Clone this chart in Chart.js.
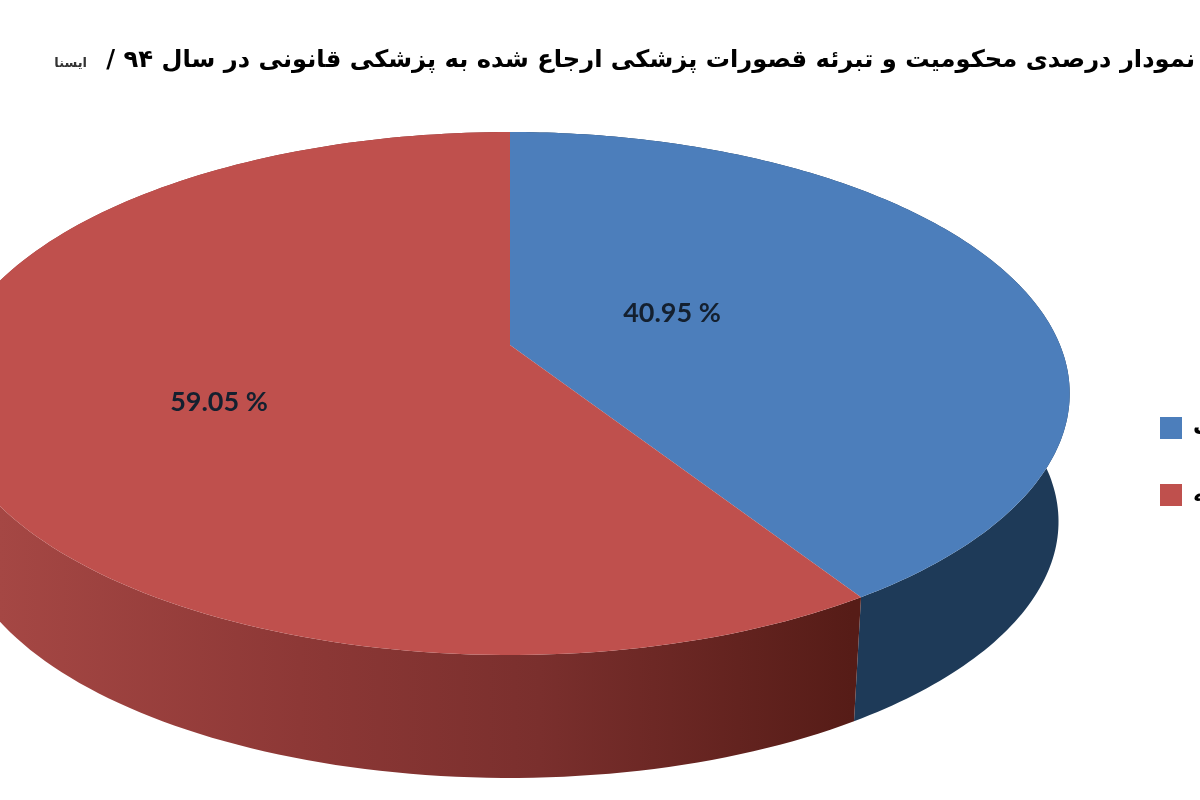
<!DOCTYPE html>
<html>
<head>
<meta charset="utf-8">
<title>نمودار درصدی</title>
<style>
  html, body { margin: 0; padding: 0; background: #fff; }
  canvas { display: block; direction: rtl; }
</style>
<script src="https://cdn.jsdelivr.net/npm/chart.js@4/dist/chart.umd.min.js"></script>
</head>
<body>
<canvas id="myChart" width="1200" height="800"></canvas>
<script>
'use strict';

//////////////// chart data ///////////////////

const categories = ['محکومیت', 'تبرئه'];
const percentValues = [40.95, 59.05];
const sliceColors = ['#4c7ebb', '#bf504d'];
const chartTitle = 'نمودار درصدی محکومیت و تبرئه قصورات پزشکی ارجاع شده به پزشکی قانونی در سال ۹۴ /';
const sourceName = 'ایسنا';

//////////////// tilted pie geometry ///////////////////

const apexX = 510;
const apexY = 345;
const spreadX = 550;
const spreadY = 252.5;
const tilt = -0.1855;
const leftStretch = 1.01;
const bottomScale = 0.98;
const bottomShift = 136;
const labelSpots = [[672, 313], [219, 402]];

// unit circle -> picture, the near side of the pie comes out bigger
function project(theta, lower) {
  const cx = Math.sin(theta);
  const cy = -Math.cos(theta);
  const d = 1 + tilt * cy;
  let x = apexX + spreadX * (cx < 0 ? cx * leftStretch : cx) / d;
  let y = apexY + spreadY * cy / d;
  if (lower) {
    x = apexX + bottomScale * (x - apexX);
    y = bottomShift + bottomScale * y;
  }
  return [x, y];
}

function arcPoints(start, end, lower) {
  const pts = [];
  const steps = 160;
  for (let i = 0; i <= steps; i++) {
    pts.push(project(start + (end - start) * i / steps, lower));
  }
  return pts;
}

function wallPaint(ctx, index) {
  const g = ctx.createLinearGradient(0, 0, 1200, 0);
  if (index === 0) {
    g.addColorStop(0, '#1e3a58');
    g.addColorStop(1, '#1e3a58');
  } else {
    g.addColorStop(0, '#a54744');
    g.addColorStop(0.25, '#8d3836');
    g.addColorStop(0.45, '#7a2f2d');
    g.addColorStop(0.71, '#561c17');
    g.addColorStop(1, '#561c17');
  }
  return g;
}

const tiltedPie = {
  id: 'tiltedPie',
  beforeDraw(chart) {
    // legend sits half off the right edge like the original crop
    const lg = chart.legend;
    lg.left = 1115;
    lg.right = 1500;
    lg.top = 372;
    lg.bottom = 800;
  },
  beforeDatasetDraw(chart, args) {
    const ctx = chart.ctx;
    const arcs = args.meta.data;
    const angles = arcs.map(a => [a.startAngle + Math.PI / 2, a.endAngle + Math.PI / 2]);

    ctx.save();
    angles.forEach((ang, i) => {
      const top = arcPoints(ang[0], ang[1], false);
      const low = arcPoints(ang[0], ang[1], true).reverse();
      ctx.beginPath();
      top.concat(low).forEach((p, n) => (n ? ctx.lineTo(p[0], p[1]) : ctx.moveTo(p[0], p[1])));
      ctx.closePath();
      ctx.fillStyle = wallPaint(ctx, i);
      ctx.fill();
    });
    angles.forEach((ang, i) => {
      ctx.beginPath();
      ctx.moveTo(apexX, apexY);
      arcPoints(ang[0], ang[1], false).forEach(p => ctx.lineTo(p[0], p[1]));
      ctx.closePath();
      ctx.fillStyle = arcs[i].options.backgroundColor;
      ctx.fill();
    });

    ctx.direction = 'ltr';
    ctx.font = 'bold 27px Lato';
    ctx.fillStyle = '#14202f';
    ctx.textAlign = 'center';
    ctx.textBaseline = 'middle';
    percentValues.forEach((v, i) => {
      ctx.fillText(v.toFixed(2) + ' %', labelSpots[i][0], labelSpots[i][1]);
    });
    ctx.restore();
    return false;
  },
  afterDraw(chart) {
    const ctx = chart.ctx;
    ctx.save();
    ctx.font = 'bold 13px "DejaVu Sans"';
    ctx.fillStyle = '#333';
    ctx.textAlign = 'right';
    ctx.textBaseline = 'middle';
    ctx.fillText(sourceName, 87, 64);
    ctx.restore();
  }
};

//////////////// the chart ///////////////////

new Chart(document.getElementById('myChart'), {
  type: 'pie',
  data: {
    labels: categories,
    datasets: [{
      data: percentValues,
      backgroundColor: sliceColors,
      borderWidth: 0
    }]
  },
  options: {
    responsive: false,
    animation: false,
    layout: { padding: { right: 5 } },
    plugins: {
      title: {
        display: true,
        text: chartTitle,
        align: 'end',
        color: '#000',
        font: { family: '"DejaVu Sans"', size: 24.2, weight: 'bold' },
        padding: { top: 46, bottom: 10 }
      },
      legend: {
        position: 'right',
        align: 'start',
        labels: {
          boxWidth: 22,
          boxHeight: 22,
          padding: 45,
          color: '#000',
          font: { family: '"DejaVu Sans"', size: 22, weight: 'bold' }
        }
      },
      tooltip: { enabled: false }
    }
  },
  plugins: [tiltedPie]
});
</script>
</body>
</html>
